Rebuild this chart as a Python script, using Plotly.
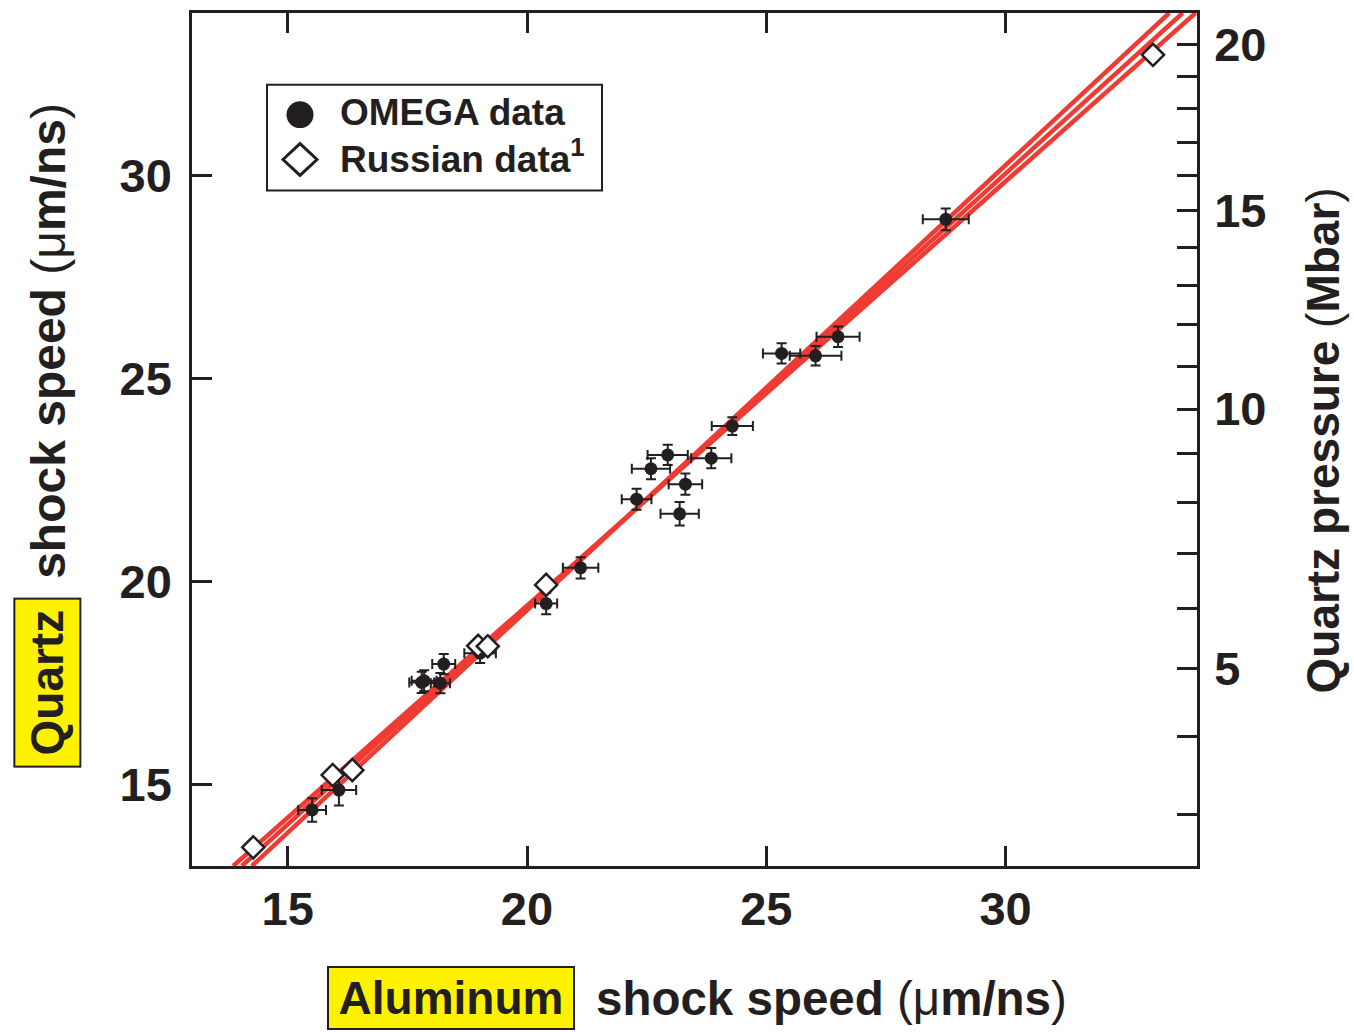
import plotly.graph_objects as go

# ---------------- data ----------------
omega_al = [15.51, 16.07, 17.80, 17.85, 18.19, 18.26, 19.02, 20.40, 21.12, 22.29,
            22.59, 22.94, 23.31, 23.19, 23.85, 24.29, 25.32, 26.03, 26.50, 28.75]
omega_q = [14.38, 14.87, 17.52, 17.56, 17.50, 17.97, 18.24, 19.46, 20.34, 22.03,
           22.78, 23.12, 22.40, 21.67, 23.04, 23.83, 25.62, 25.56, 26.03, 28.92]
omega_al_err = [0.29, 0.36, 0.26, 0.26, 0.20, 0.24, 0.33, 0.23, 0.37, 0.31,
                0.40, 0.42, 0.35, 0.40, 0.42, 0.43, 0.39, 0.54, 0.45, 0.48]
omega_q_err = [0.29, 0.38, 0.26, 0.26, 0.25, 0.25, 0.24, 0.26, 0.26, 0.26,
               0.26, 0.25, 0.26, 0.29, 0.25, 0.22, 0.25, 0.24, 0.25, 0.27]

russian_al = [14.28, 15.94, 16.35, 18.98, 19.18, 20.40, 33.08]
russian_q = [13.46, 15.24, 15.36, 18.42, 18.41, 19.92, 32.97]

# fit line and its bounds: Al speed where each line meets Us(quartz)=13 and 34
fit_q_ends = [13.0, 34.0]
fit_upper_al = [13.86, 33.97]
fit_center_al = [14.04, 33.70]
fit_lower_al = [14.25, 33.42]

x_ticks = [15, 20, 25, 30]
y_ticks = [15, 20, 25, 30]

# right axis: quartz pressure (Mbar), labelled ticks at the quartz shock speed they map to
pressure_major_labels = ["5", "10", "15", "20"]
pressure_major_us = [17.87, 24.25, 29.13, 33.22]
# unlabelled ticks at 3, 4, 6, 7, 8, 9, 11, 12, 13, 14, 16, 17, 18, 19 Mbar
pressure_minor_us = [14.27, 16.19, 19.34, 20.69, 21.96, 23.15, 25.30, 26.32,
                     27.28, 28.22, 29.99, 30.80, 31.64, 32.44]

# ---------------- style ----------------
INK = "#231F20"
RED = "#EE3B33"
YEL = "#FFF200"
FONT = "Liberation Sans, Arial, Helvetica, sans-serif"

W, H = 1354, 1032
L, R, T, B = 192, 1197, 10, 866


def px(x):
    return (x - L) / (R - L)


def py(y):
    return (B - y) / (B - T)


fig = go.Figure()

for al in (fit_upper_al, fit_center_al, fit_lower_al):
    fig.add_trace(go.Scatter(x=al, y=fit_q_ends, mode="lines",
                             line=dict(color=RED, width=4.5),
                             hoverinfo="skip", showlegend=False))

fig.add_trace(go.Scatter(
    x=omega_al, y=omega_q, mode="markers", name="OMEGA data",
    marker=dict(symbol="circle", size=13, color=INK),
    error_x=dict(type="data", array=omega_al_err, color=INK, thickness=2, width=5),
    error_y=dict(type="data", array=omega_q_err, color=INK, thickness=2, width=5),
    showlegend=False))

fig.add_trace(go.Scatter(
    x=russian_al, y=russian_q, mode="markers", name="Russian data",
    marker=dict(symbol="diamond", size=17, color="white",
                line=dict(color=INK, width=2.5)),
    showlegend=False))

# invisible trace to activate the right-hand pressure axis
fig.add_trace(go.Scatter(x=[None], y=[None], yaxis="y2", showlegend=False,
                         hoverinfo="skip"))

axis_common = dict(showgrid=False, zeroline=False, showline=True, linecolor=INK,
                   linewidth=2.5, ticks="inside", ticklen=20, tickwidth=2.5,
                   tickcolor=INK,
                   tickfont=dict(family=FONT, size=47, color=INK, weight="bold"))

fig.update_layout(
    width=W, height=H, autosize=False,
    margin=dict(l=L, r=W - R, t=T, b=H - B, pad=0),
    plot_bgcolor="white", paper_bgcolor="white",
    showlegend=False,
    xaxis=dict(range=[13, 34], tickvals=x_ticks, mirror="ticks",
               ticklabelstandoff=0, **axis_common),
    yaxis=dict(range=[13, 34], tickvals=y_ticks, mirror=False,
               ticklabelstandoff=8, **axis_common),
    yaxis2=dict(range=[13, 34], overlaying="y", side="right",
                tickmode="array", tickvals=pressure_major_us,
                ticktext=pressure_major_labels,
                minor=dict(tickmode="array", tickvals=pressure_minor_us,
                           ticks="inside", ticklen=20, tickwidth=2.5,
                           tickcolor=INK, showgrid=False),
                ticklabelstandoff=5, **axis_common),
)

# ---------------- legend (drawn by hand to match the large symbols) ----------------
shapes = [
    dict(type="rect", xref="paper", yref="paper", x0=px(267), x1=px(602),
         y0=py(188), y1=py(82), line=dict(color=INK, width=2), fillcolor="white",
         layer="above"),
    dict(type="circle", xref="paper", yref="paper", x0=px(300 - 13.5), x1=px(300 + 13.5),
         y0=py(112 + 13.5), y1=py(112 - 13.5), line=dict(color=INK, width=0),
         fillcolor=INK, layer="above"),
]
cx, cy, hw, hh = 300, 157, 17, 16
shapes.append(dict(
    type="path", xref="paper", yref="paper",
    path=(f"M {px(cx - hw)},{py(cy)} L {px(cx)},{py(cy - hh)} "
          f"L {px(cx + hw)},{py(cy)} L {px(cx)},{py(cy + hh)} Z"),
    line=dict(color=INK, width=3), fillcolor="white", layer="above"))
fig.update_layout(shapes=shapes)

ann = [
    dict(text="OMEGA data", x=px(338), y=py(110), xanchor="left", yanchor="middle",
         font=dict(family=FONT, size=37, color=INK, weight="bold")),
    dict(text="Russian data<sup>1</sup>", x=px(338), y=py(154), xanchor="left",
         yanchor="middle", font=dict(family=FONT, size=37, color=INK, weight="bold")),
    # left title
    dict(text="<b>Quartz</b>", x=px(47), y=py(682), textangle=-90,
         xanchor="center", yanchor="middle", width=158, height=56,
         bgcolor=YEL, bordercolor=INK, borderwidth=2, borderpad=4,
         font=dict(family=FONT, size=46, color=INK)),
    dict(text="<b>shock speed</b> (μ<b>m/ns</b>)", x=px(49), y=py(339), textangle=-90,
         xanchor="center", yanchor="middle",
         font=dict(family=FONT, size=48, color=INK)),
    # bottom title
    dict(text="<b>Aluminum</b>", x=px(451), y=py(998),
         xanchor="center", yanchor="middle", width=236, height=52,
         bgcolor=YEL, bordercolor=INK, borderwidth=2, borderpad=4,
         font=dict(family=FONT, size=46, color=INK)),
    dict(text="<b>shock speed</b> (μ<b>m/ns</b>)", x=px(831), y=py(999),
         xanchor="center", yanchor="middle",
         font=dict(family=FONT, size=47.5, color=INK)),
    # right title
    dict(text="<b>Quartz pressure</b> (<b>Mbar</b>)", x=px(1323), y=py(439),
         textangle=-90, xanchor="center", yanchor="middle",
         font=dict(family=FONT, size=46, color=INK)),
]
for a in ann:
    a.setdefault("xref", "paper")
    a.setdefault("yref", "paper")
    a.setdefault("showarrow", False)
fig.update_layout(annotations=ann)

fig.write_html("out.html", config={"displayModeBar": False},
               post_script="document.body.style.margin='0';"
                           "document.body.style.overflow='hidden';")
